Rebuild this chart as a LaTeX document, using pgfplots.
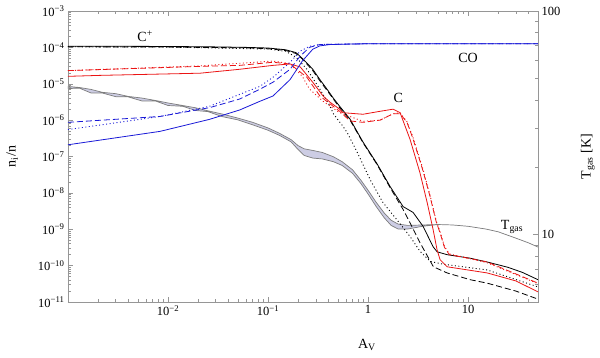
\documentclass[border=0pt]{standalone}
\usepackage{fontspec}
\setmainfont{Liberation Serif}
\usepackage{pgfplots}
\pgfplotsset{compat=1.18}

\definecolor{axgray}{RGB}{150,150,150}
\definecolor{cred}{RGB}{235,20,20}
\definecolor{cblue}{RGB}{25,25,215}
\definecolor{tline}{RGB}{125,125,125}
\definecolor{tband}{RGB}{205,205,228}

\tikzset{
  lsol/.style={line width=0.8pt},
  ldsh/.style={line width=0.8pt, dash pattern=on 6pt off 3pt},
  ldot/.style={line width=0.9pt, dash pattern=on 1pt off 2.5pt},
  lbl/.style={font=\fontsize{14}{16}\selectfont},
}

\begin{document}
\begin{tikzpicture}
\path[use as bounding box] (-68pt,-56pt) rectangle (532pt,302pt);

% gas temperature, right axis
\begin{axis}[
    at={(0,0)}, anchor=south west,
    scale only axis, width=470pt, height=291pt,
    xmode=log, ymode=log, xmin=1e-3, xmax=50, ymin=5, ymax=100,
    axis line style={axgray, line width=0.6pt},
    every tick/.style={axgray, line width=0.5pt},
    major tick length=5pt, minor tick length=3pt,
    tick align=inside,
    tick label style={font=\fontsize{12.5}{14}\selectfont, black},
    label style={font=\fontsize{14}{16}\selectfont},
    axis x line=none, axis y line*=right,
    ytick={10,100}, yticklabels={10,100},
    minor ytick={6,7,8,9,20,30,40,50,60,70,80,90},
    ylabel={T\textsubscript{gas} [K]},
    ylabel style={at={(axis description cs:1.106,0.5)}, anchor=center},
]
% band: upper edge forward, lower edge back
\addplot[fill=tband, draw=tline, line width=0.7pt] coordinates {
 (0.001,46.0) (0.0013,45.5) (0.0017,44.6) (0.0022,43.3) (0.003,42.7)
 (0.004,41.5) (0.0055,40.8) (0.0075,39.8) (0.01,38.8) (0.014,37.8)
 (0.019,36.9) (0.025,35.8) (0.035,34.6) (0.05,33.2) (0.07,31.8)
 (0.1,30.0) (0.13,28.4) (0.17,26.6) (0.2,25.0) (0.23,24.2) (0.28,23.8)
 (0.35,23.3) (0.45,22.3) (0.55,21.2) (0.7,19.5) (0.85,17.5) (1.0,15.8)
 (1.2,14.0) (1.45,12.5) (1.7,11.6) (2.0,11.15) (2.5,11.0) (3.5,11.05)
 (5,11.1) (7,11.05) (10,10.9) (15,10.6) (20,10.3) (30,9.65) (40,9.2) (50,8.8)
 (40,9.2) (30,9.65) (20,10.3) (15,10.6) (10,10.9) (7,11.05) (5,11.1)
 (3.5,10.9) (2.5,10.6) (2.0,10.6) (1.7,11.0) (1.45,11.9) (1.2,13.4)
 (1.0,15.2) (0.85,16.9) (0.7,18.8) (0.55,20.4) (0.45,21.2) (0.35,21.8)
 (0.28,22.0) (0.23,22.6) (0.2,24.0) (0.17,26.0) (0.13,27.8) (0.1,29.3)
 (0.07,31.0) (0.05,32.6) (0.035,33.7) (0.025,35.5) (0.019,35.9) (0.014,37.5)
 (0.01,37.8) (0.0075,39.6) (0.0055,39.6) (0.004,41.3) (0.003,41.4)
 (0.0022,43.0) (0.0017,43.0) (0.0013,45.2) (0.001,45.0)} -- cycle;
\end{axis}

% abundances, left axis
\begin{axis}[
    at={(0,0)}, anchor=south west,
    scale only axis, width=470pt, height=291pt,
    xmode=log, ymode=log, xmin=1e-3, xmax=50, ymin=1e-11, ymax=1e-3,
    axis line style={axgray, line width=0.6pt},
    every tick/.style={axgray, line width=0.5pt},
    major tick length=5pt, minor tick length=3pt,
    tick align=inside,
    tick label style={font=\fontsize{12.5}{14}\selectfont, black},
    label style={font=\fontsize{14}{16}\selectfont},
    xtick pos=both, ytick pos=left,
    xtick={0.01,0.1,1,10},
    xticklabels={10\textsuperscript{−2},10\textsuperscript{−1},1,10},
    minor xtick={0.002,0.003,0.004,0.005,0.006,0.007,0.008,0.009,
      0.02,0.03,0.04,0.05,0.06,0.07,0.08,0.09,
      0.2,0.3,0.4,0.5,0.6,0.7,0.8,0.9,2,3,4,5,6,7,8,9,20,30,40,50},
    ytick={1e-11,1e-10,1e-9,1e-8,1e-7,1e-6,1e-5,1e-4,1e-3},
    yticklabels={10\textsuperscript{−11},10\textsuperscript{−10},10\textsuperscript{−9},
      10\textsuperscript{−8},10\textsuperscript{−7},10\textsuperscript{−6},
      10\textsuperscript{−5},10\textsuperscript{−4},10\textsuperscript{−3}},
    minor ytick={2e-11,3e-11,4e-11,5e-11,6e-11,7e-11,8e-11,9e-11,
      2e-10,3e-10,4e-10,5e-10,6e-10,7e-10,8e-10,9e-10,
      2e-9,3e-9,4e-9,5e-9,6e-9,7e-9,8e-9,9e-9,
      2e-8,3e-8,4e-8,5e-8,6e-8,7e-8,8e-8,9e-8,
      2e-7,3e-7,4e-7,5e-7,6e-7,7e-7,8e-7,9e-7,
      2e-6,3e-6,4e-6,5e-6,6e-6,7e-6,8e-6,9e-6,
      2e-5,3e-5,4e-5,5e-5,6e-5,7e-5,8e-5,9e-5,
      2e-4,3e-4,4e-4,5e-4,6e-4,7e-4,8e-4,9e-4},
    xlabel={A\textsubscript{V}}, ylabel={n\textsubscript{i}/n},
    xlabel style={at={(axis description cs:0.636,-0.148)}, anchor=center},
    ylabel style={at={(axis description cs:-0.119,0.5)}, anchor=center},
]
% C+
\addplot[lsol, black] coordinates {
 (0.001,1.08e-4) (0.01,1.06e-4) (0.03,1.03e-4) (0.06,1.0e-4) (0.1,9.6e-5)
 (0.15,8.6e-5) (0.19,7.2e-5) (0.22,5.0e-5) (0.25,3.5e-5) (0.28,2.5e-5)
 (0.33,1.3e-5) (0.39,7.0e-6) (0.45,4.0e-6) (0.52,2.4e-6) (0.66,1.07e-6)
 (0.89,2.5e-7) (1.23,6.3e-8) (1.66,1.5e-8) (2.24,4.2e-9) (2.82,2.9e-9)
 (3.55,1.2e-9) (4.47,3.3e-10) (4.9,2.4e-10) (6.17,2.0e-10) (10.5,1.6e-10)
 (15.5,1.26e-10) (25,9e-11) (35,6.5e-11) (50,4.1e-11)};
\addplot[ldsh, black] coordinates {
 (0.001,1.04e-4) (0.01,1.02e-4) (0.06,9.7e-5) (0.1,9.2e-5) (0.15,8.2e-5)
 (0.19,6.8e-5) (0.22,4.8e-5) (0.28,2.3e-5) (0.33,1.2e-5) (0.39,6.5e-6)
 (0.52,2.2e-6) (0.66,1.0e-6) (0.89,2.4e-7) (1.23,6.0e-8) (1.66,1.4e-8)
 (2.24,3.5e-9) (2.63,1.5e-9) (3.3,4.3e-10) (4.5,9.3e-11) (6.17,6.3e-11)
 (10.5,4.1e-11) (15.5,3.3e-11) (30,2.0e-11) (50,1.2e-11)};
\addplot[ldot, black] coordinates {
 (0.001,1.04e-4) (0.01,1.02e-4) (0.1,9.0e-5) (0.15,7.8e-5) (0.19,5.4e-5)
 (0.245,2.5e-5) (0.33,7.1e-6) (0.417,2.4e-6) (0.45,1.5e-6) (0.56,6.8e-7)
 (0.62,4.5e-7) (0.78,1.3e-7) (1.05,2.3e-8) (1.41,5.4e-9) (1.95,1.8e-9)
 (2.63,6.3e-10) (3.3,2.5e-10) (4.2,1.3e-10) (5.6,1.1e-10) (15.5,7.6e-11)
 (50,2.6e-11)};
% C
\addplot[lsol, cred] coordinates {
 (0.001,1.6e-5) (0.0021,1.7e-5) (0.0209,1.95e-5) (0.052,2.5e-5) (0.112,3.2e-5)
 (0.166,3.5e-5) (0.21,2.9e-5) (0.28,1.1e-5) (0.355,4.6e-6) (0.417,3.1e-6)
 (0.52,2.0e-6) (0.56,1.6e-6) (0.89,1.45e-6) (1.32,1.75e-6) (1.78,2.0e-6)
 (2.09,1.6e-6) (2.63,2.95e-7) (3.3,3.6e-8) (3.9,5.4e-9) (4.47,9.8e-10)
 (4.9,2.7e-10) (5.25,1.45e-10) (6.17,9.3e-11) (15.5,6.3e-11) (30,3.8e-11)
 (50,1.9e-11)};
\addplot[ldsh, cred] coordinates {
 (0.001,2.3e-5) (0.0209,3.0e-5) (0.052,3.2e-5) (0.112,3.9e-5) (0.166,3.5e-5)
 (0.245,1.5e-5) (0.33,4.6e-6) (0.52,1.75e-6) (0.66,9.5e-7) (0.89,8.7e-7)
 (1.32,1.0e-6) (1.78,1.5e-6) (2.09,1.5e-6) (2.45,8.7e-7) (2.8,3.2e-7)
 (3.5,4.5e-8) (4.17,7.9e-9) (4.8,1.6e-9) (5.25,7.9e-10) (5.8,3.2e-10)
 (6.5,2.0e-10) (10,1.6e-10) (15.5,1.26e-10) (50,3.3e-11)};
\addplot[ldot, cred] coordinates {
 (0.001,2.3e-5) (0.0209,3.1e-5) (0.112,4.2e-5) (0.166,3.6e-5) (0.22,1.6e-5)
 (0.26,7.1e-6) (0.355,3.3e-6) (0.52,1.6e-6) (0.89,9.3e-7) (1.32,1.0e-6)
 (1.78,1.5e-6) (2.09,1.6e-6) (2.45,9.0e-7) (2.8,3.5e-7) (3.5,5.0e-8)
 (4.17,8.5e-9) (4.8,1.7e-9) (5.25,8.5e-10) (5.8,3.4e-10) (6.5,2.1e-10)
 (10,1.6e-10) (15.5,1.2e-10) (50,3.2e-11)};
% CO
\addplot[lsol, cblue] coordinates {
 (0.001,2.1e-7) (0.0083,4.9e-7) (0.026,1.05e-6) (0.052,1.9e-6) (0.083,3.3e-6)
 (0.112,4.6e-6) (0.166,1.3e-5) (0.22,4.2e-5) (0.28,8.9e-5) (0.33,1.1e-4)
 (0.42,1.2e-4) (1,1.26e-4) (50,1.26e-4)};
\addplot[ldsh, cblue] coordinates {
 (0.001,8.7e-7) (0.0083,1.26e-6) (0.026,2.2e-6) (0.052,3.8e-6) (0.083,7.1e-6)
 (0.112,1.1e-5) (0.166,2.5e-5) (0.21,5.8e-5) (0.26,1.0e-4) (0.33,1.2e-4)
 (1,1.26e-4) (50,1.26e-4)};
\addplot[ldot, cblue] coordinates {
 (0.001,5.5e-7) (0.0083,1.26e-6) (0.026,2.4e-6) (0.052,5.1e-6) (0.083,8.5e-6)
 (0.112,1.5e-5) (0.166,3.9e-5) (0.21,7.9e-5) (0.26,1.07e-4) (0.33,1.2e-4)
 (1,1.26e-4) (50,1.26e-4)};

\node[lbl] at (axis cs:0.0059,2.0e-4) {C\textsuperscript{+}};
\node[lbl] at (axis cs:10,5e-5) {CO};
\node[lbl] at (axis cs:2.0,4e-6) {C};
\node[lbl] at (axis cs:27.5,1.17e-9) {T\textsubscript{gas}};
\end{axis}
\end{tikzpicture}
\end{document}
